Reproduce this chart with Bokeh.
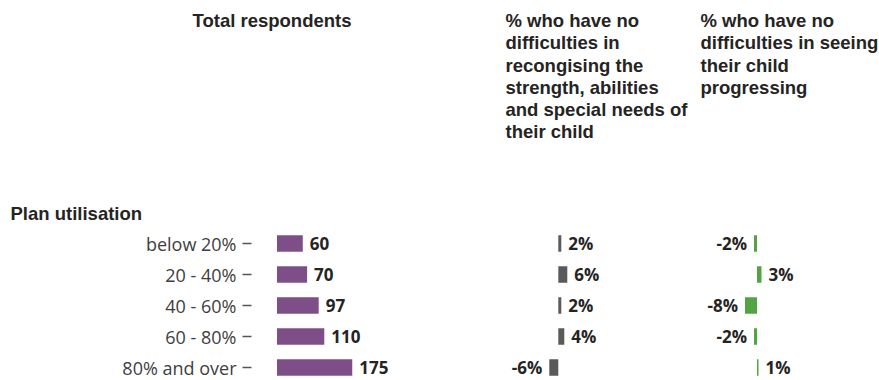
from bokeh.plotting import figure
from bokeh.models import Range1d, ColumnDataSource
from bokeh.core.properties import value
from bokeh.embed import file_html
from bokeh.resources import INLINE

# ---------------- data ----------------
categories = ["below 20%", "20 - 40%", "40 - 60%", "60 - 80%", "80% and over"]
total_respondents = [60, 70, 97, 110, 175]
pct_strengths = [2, 6, 2, 4, -6]
pct_progress = [-2, 3, -8, -2, 1]

header_total = "Total respondents"
header_strengths = ("% who have no\ndifficulties in\nrecongising the\n"
                    "strength, abilities\nand special needs of\ntheir child")
header_progress = "% who have no\ndifficulties in seeing\ntheir child\nprogressing"
group_title = "Plan utilisation"

# ---------------- layout / style ----------------
W, H = 879, 380
ROW_PX = 31.0          # row spacing in pixels
ROW0_PX = 243.0        # centre of first row (px from top)

PURPLE = "#7e4e89"
GREY = "#5a5a5a"
GREEN = "#54a343"
TEXT = "#252423"
AXIS_TEXT = "#3e3e3e"
HEAD_FONT = "Liberation Sans"

# pixel scales for the three panels (px per unit) and zero positions (px)
tot_scale, tot_zero = 0.43, 276.5
str_scale, str_zero = 1.5, 557.8
pro_scale, pro_zero = 1.5, 756.5


def make_range(scale, zero_px):
    start = -zero_px / scale
    return Range1d(start, start + W / scale)


rows = list(range(len(categories)))   # one row per category, top to bottom
row_top = -ROW0_PX / ROW_PX
row_bottom = (H - ROW0_PX) / ROW_PX

p = figure(width=W, height=H,
           x_range=make_range(tot_scale, tot_zero),
           y_range=Range1d(row_bottom, row_top),
           x_axis_location=None, y_axis_location=None,
           toolbar_location=None, output_backend="svg",
           min_border=0, outline_line_color=None)
p.extra_x_ranges = {"str": make_range(str_scale, str_zero),
                    "pro": make_range(pro_scale, pro_zero),
                    "px": Range1d(0, W)}
p.extra_y_ranges = {"px": Range1d(H, 0)}
p.grid.visible = False

# ---------------- headers ----------------
head_src = ColumnDataSource(dict(
    x=[192, 505, 700],
    y=[9.5, 9.5, 9.5],
    t=[header_total, header_strengths, header_progress],
))
p.text(x="x", y="y", text="t", source=head_src, x_range_name="px", y_range_name="px",
       text_baseline="top", text_align="left",
       text_font=value(HEAD_FONT), text_font_style="bold", text_font_size="18.5px",
       text_line_height=1.06, text_color=TEXT)
p.text(x=[10], y=[213], text=[group_title], x_range_name="px", y_range_name="px",
       text_baseline="middle", text_align="left",
       text_font=value(HEAD_FONT), text_font_style="bold", text_font_size="18.5px",
       text_color=TEXT)

# ---------------- category labels and ticks ----------------
cat_src = ColumnDataSource(dict(row=rows, cat=categories,
                                tx0=[242] * len(rows), tx1=[251] * len(rows),
                                lx=[236] * len(rows)))
p.text(x="lx", y="row", text="cat", source=cat_src, x_range_name="px",
       text_align="right", text_baseline="middle",
       text_font=value("Open Sans"), text_font_size="18px", text_color=AXIS_TEXT)
p.segment(x0="tx0", x1="tx1", y0="row", y1="row", source=cat_src, x_range_name="px",
          line_color="#555555", line_width=1.4)

BAR_H = 16.5 / ROW_PX


def panel(vals, color, range_name, fmt):
    src = ColumnDataSource(dict(
        row=rows,
        val=vals,
        lab=[fmt(v) for v in vals],
        align=["left" if v >= 0 else "right" for v in vals],
        off=[7 if v >= 0 else -7 for v in vals],
    ))
    kw = {} if range_name is None else {"x_range_name": range_name}
    p.hbar(y="row", left=0, right="val", height=BAR_H, source=src,
           fill_color=color, line_color=None, **kw)
    p.text(x="val", y="row", text="lab", source=src, x_offset="off",
           text_align="align", text_baseline="middle",
           text_font=value("Open Sans"), text_font_style="bold",
           text_font_size="17px", text_color=TEXT, **kw)


panel(total_respondents, PURPLE, None, lambda v: f"{v}")
panel(pct_strengths, GREY, "str", lambda v: f"{v}%")
panel(pct_progress, GREEN, "pro", lambda v: f"{v}%")

open("out.html", "w").write(file_html(p, INLINE))
